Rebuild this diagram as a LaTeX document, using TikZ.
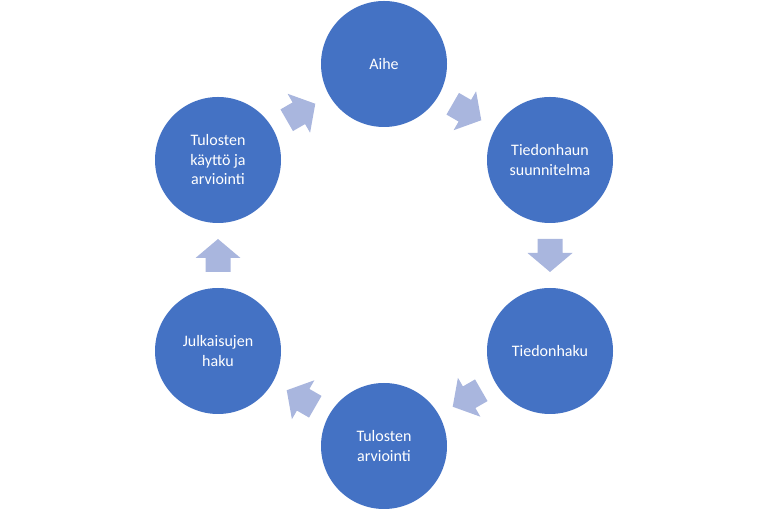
\documentclass[tikz,border=0pt]{standalone}
\usepackage{fontspec}
\setmainfont{Carlito}
\usepackage{tikz}
\usetikzlibrary{calc}

\definecolor{cyclefill}{RGB}{68,114,196}
\definecolor{arrowfill}{RGB}{169,182,222}

\tikzset{
  step circle/.style={circle,fill=cyclefill,minimum size=126pt,inner sep=0pt,
    text=white,align=center,font=\fontsize{16}{19.5}\selectfont},
  block arrow/.style={fill=arrowfill}
}

\begin{document}
\begin{tikzpicture}[x=1pt,y=1pt]
  \useasboundingbox (0,0) rectangle (768,513);
  \node[step circle] (aihe) at (384,449) {Aihe};
  \node[step circle] (suunnitelma) at (550,353) {Tiedonhaun\\suunnitelma};
  \node[step circle] (haku) at (550,162) {Tiedonhaku};
  \node[step circle] (arviointi) at (384,67) {Tulosten\\arviointi};
  \node[step circle] (julkaisut) at (218,162) {Julkaisujen\\haku};
  \node[step circle] (kaytto) at (218,353) {Tulosten\\käyttö ja\\arviointi};
  \foreach \a/\b/\ang in {aihe/suunnitelma/-30,suunnitelma/haku/-90,
      haku/arviointi/-150,arviointi/julkaisut/150,julkaisut/kaytto/90,kaytto/aihe/30}
    \fill[block arrow,shift={($(\a)!0.5!(\b)$)},rotate=\ang]
      (-16.5,-12.5) -- (-2.5,-12.5) -- (-2.5,-22.5) -- (16.5,0)
      -- (-2.5,22.5) -- (-2.5,12.5) -- (-16.5,12.5) -- cycle;
\end{tikzpicture}
\end{document}
